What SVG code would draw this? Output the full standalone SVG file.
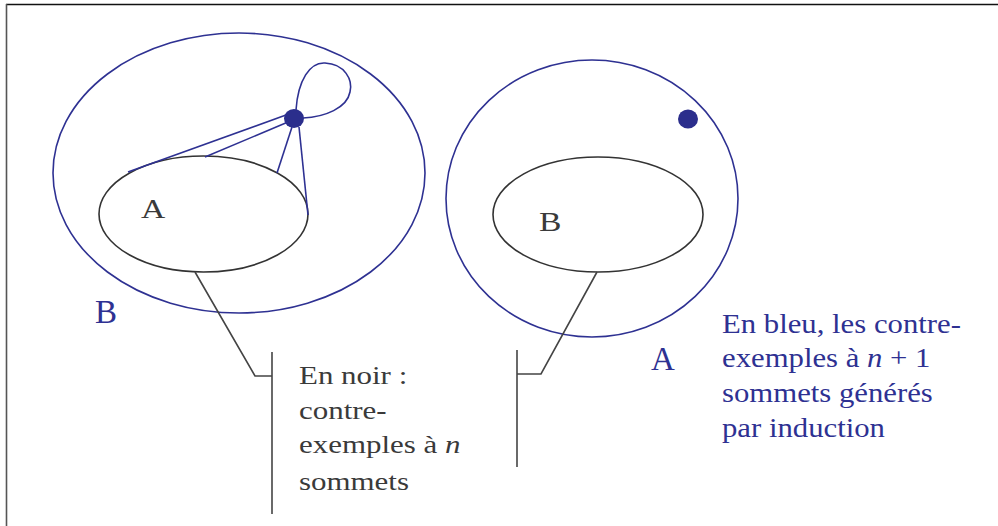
<svg xmlns="http://www.w3.org/2000/svg" width="998" height="526" viewBox="0 0 998 526">
<style>
.blue{fill:none;stroke:#2e3192;stroke-width:1.6}
.black{fill:none;stroke:#333;stroke-width:1.6}
.lead{fill:none;stroke:#444;stroke-width:1.6}
.dot{fill:#2b2e8c;stroke:none}
.t{font-family:"Liberation Serif","Times New Roman",serif}
.tb{fill:#3a3a3a}
.tu{fill:#2e3192}
</style>
<rect width="998" height="526" fill="#fff"/>
<g id="frame">
<line x1="6" y1="4.5" x2="998" y2="4.5" stroke="#111" stroke-width="1.6"/>
<line x1="6.5" y1="4" x2="6.5" y2="526" stroke="#555" stroke-width="1.6"/>
</g>
<g id="left-B">
<ellipse class="blue" cx="239" cy="173" rx="186" ry="140"/>
<text class="t tu" x="95" y="323" font-size="33">B</text>
</g>
<g id="left-A">
<ellipse class="black" cx="203.5" cy="214" rx="104.5" ry="58"/>
<text class="t tb" transform="translate(141,218) scale(1.2,1)" font-size="28">A</text>
</g>
<g id="left-dot">
<ellipse class="dot" cx="294" cy="118.5" rx="10" ry="9.5"/>
</g>
<g id="right-A">
<ellipse class="blue" cx="592" cy="198.5" rx="146" ry="138.5"/>
<text class="t tu" x="651" y="370" font-size="33">A</text>
</g>
<g id="right-B">
<ellipse class="black" cx="598" cy="214.5" rx="105" ry="57.5"/>
<text class="t tb" transform="translate(539,231) scale(1.2,1)" font-size="28">B</text>
</g>
<g id="right-dot">
<ellipse class="dot" cx="688" cy="119" rx="10" ry="9.5"/>
</g>
<g id="connectors">
<path class="blue" d="M296,110 C298,80 310,62 325,63 C345,64 353,80 350,92 C347,108 325,117 303,118"/>
<line class="blue" x1="286" y1="115" x2="128" y2="172"/>
<line class="blue" x1="288" y1="122" x2="205" y2="157"/>
<line class="blue" x1="292" y1="127" x2="277" y2="173"/>
<line class="blue" x1="299" y1="127" x2="308" y2="215"/>
<path class="lead" d="M195,272 L255,376 L272,376"/>
<line class="lead" x1="272" y1="352" x2="272" y2="514"/>
<path class="lead" d="M597,272 L541,374 L517,374"/>
<line class="lead" x1="517" y1="350" x2="517" y2="467"/>
</g>
<g id="label-noir" class="t tb" font-size="26">
<text transform="translate(299,384) scale(1.19,1)">En noir :</text>
<text transform="translate(299,419) scale(1.19,1)">contre-</text>
<text transform="translate(299,453) scale(1.19,1)">exemples à <tspan font-style="italic">n</tspan></text>
<text transform="translate(299,490) scale(1.19,1)">sommets</text>
</g>
<g id="label-bleu" class="t tu" font-size="26.5">
<text transform="translate(722,333) scale(1.16,1)">En bleu, les contre-</text>
<text transform="translate(722,367) scale(1.16,1)">exemples à <tspan font-style="italic">n</tspan> + 1</text>
<text transform="translate(722,402) scale(1.16,1)">sommets générés</text>
<text transform="translate(722,437) scale(1.16,1)">par induction</text>
</g>
</svg>
